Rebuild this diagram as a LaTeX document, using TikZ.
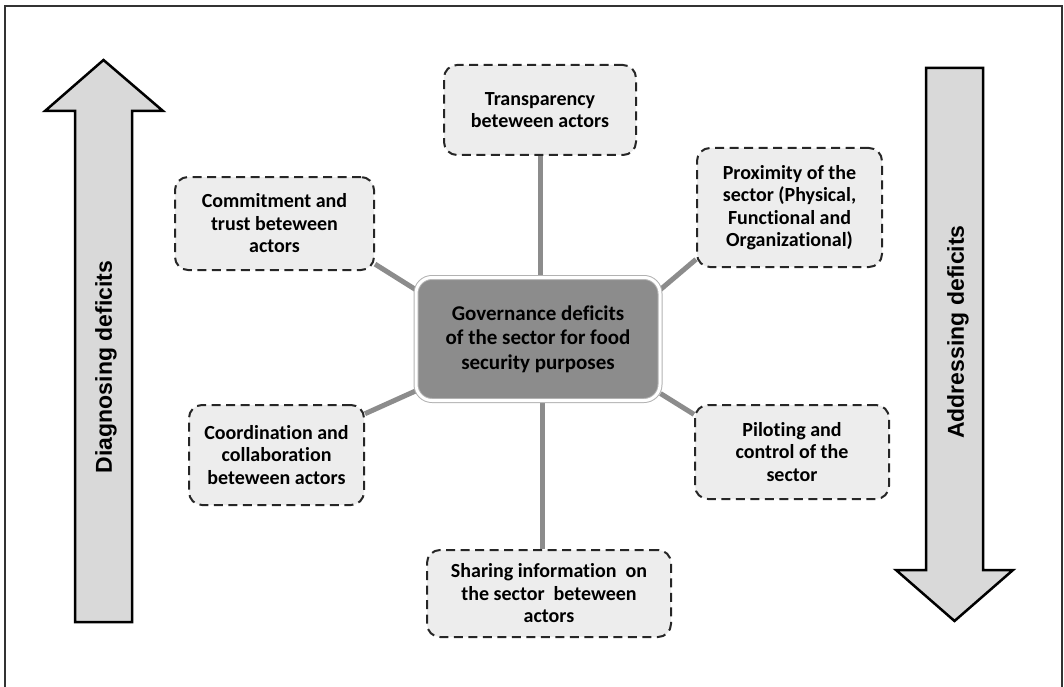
\documentclass[tikz,border=0pt]{standalone}
\usepackage{fontspec}
\setmainfont{Carlito}[Ligatures=NoCommon]
\newfontfamily\arrowfont{Liberation Sans}
\usetikzlibrary{backgrounds}

\tikzset{
  deficit/.style={draw=black!85,line width=2pt,dash pattern=on 9pt off 5.5pt,
    fill=black!7,rounded corners=13pt,align=center,inner sep=0pt,
    font=\bfseries\fontsize{20}{22.5}\selectfont},
  link/.style={draw=black!45,line width=5pt},
  bigarrow/.style={draw=black,fill=black!15,line width=2.5pt,line join=miter},
  arrowlabel/.style={rotate=90,font=\arrowfont\bfseries\fontsize{23}{27}\selectfont},
}

\begin{document}
\begin{tikzpicture}[x=1pt,y=-1pt]
  \useasboundingbox (0,0) rectangle (1064,687);
  \draw[black!80,line width=1.5pt] (5,700) -- (5,6) -- (1062,6) -- (1062,700);

  % the two big arrows at the sides
  \filldraw[bigarrow] (75,622) -- (75,111) -- (45,111) -- (103.5,60)
    -- (163,111) -- (132,111) -- (132,622) -- cycle;
  \filldraw[bigarrow] (926,68) -- (983,68) -- (983,570) -- (1013,570)
    -- (954.5,621) -- (896,570) -- (926,570) -- cycle;
  \node[arrowlabel] (diag) at (106,367) {Diagnosing deficits};
  \node[arrowlabel] (addr) at (958,332) {Addressing deficits};

  % centre box
  \node[fill=black!45,draw=black!30,double=white,double distance=3pt,line width=1pt,
    rounded corners=16pt,minimum width=244pt,minimum height=123pt,align=center,
    font=\bfseries\fontsize{21}{24.5}\selectfont] (gov) at (538,339)
    {Governance deficits\\of the sector for food\\security purposes};

  % the six deficits around it
  \node[deficit,minimum width=192pt,minimum height=90pt] (trans) at (540,110)
    {Transparency\\beteween actors};
  \node[deficit,minimum width=199pt,minimum height=93pt] (commit) at (274.5,223.5)
    {Commitment and\\trust beteween\\actors};
  \node[deficit,minimum width=185pt,minimum height=119pt] (prox) at (789.5,207.5)
    {Proximity of the\\sector (Physical,\\Functional and\\Organizational)};
  \node[deficit,minimum width=175pt,minimum height=100pt] (coord) at (276.5,455)
    {Coordination and\\collaboration\\beteween actors};
  \node[deficit,minimum width=194pt,minimum height=94pt] (pilot) at (792,452)
    {Piloting and\\control of the\\sector};
  \node[deficit,minimum width=244pt,minimum height=87pt] (share) at (549,593.5)
    {Sharing information \ on\\the sector \ beteween\\actors};

  \begin{pgfonlayer}{background}
    \draw[link] (trans.south) -- (trans.south |- gov.north);
    \draw[link] (commit.-22) -- (gov.158);
    \draw[link] (prox.209) -- (gov.22);
    \draw[link] (coord.25) -- (gov.203);
    \draw[link] (pilot.159) -- (gov.-24);
    \draw[link] (gov.south) ++(4,0) -- (share.north -| 542,0);
  \end{pgfonlayer}
\end{tikzpicture}
\end{document}
